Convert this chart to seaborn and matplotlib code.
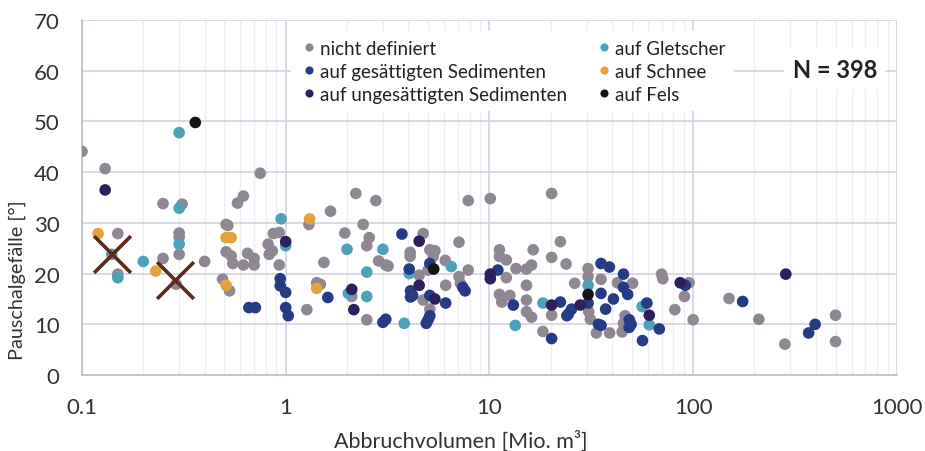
import matplotlib
matplotlib.use("Agg")
import matplotlib.pyplot as plt
from matplotlib.ticker import FixedLocator, NullFormatter, FuncFormatter
import seaborn as sns
import pandas as pd

# Abbruchvolumen [Mio. m3] / Pauschalgefaelle [deg] per Untergrund
nd_vol = [0.10, 0.13, 0.75, 0.25, 0.31, 0.62, 0.58, 0.51, 0.52, 0.87, 0.93, 0.15, 0.30, 0.30,
          0.82, 0.30, 0.51, 0.54, 0.55, 0.62, 0.65, 0.70, 0.70, 0.83, 0.86, 0.93, 0.25, 0.40,
          0.15, 0.29, 0.49, 0.53, 2.21, 2.77, 1.66, 1.30, 1.95, 2.40, 2.57, 2.50, 2.86, 3.10,
          1.54, 1.42, 1.48, 2.11, 1.27, 2.50, 7.87, 10.1, 4.73, 7.09, 4.08, 4.08, 5.1, 5.4,
          5.3, 6.07, 3.18, 7.87, 5.0, 4.52, 7.09, 7.2, 6.1, 4.73, 5.1, 20.2, 22.3, 16.4, 11.2,
          11.2, 12.1, 20.2, 16.1, 15.2, 13.5, 23.8, 30.5, 12.1, 15.2, 26.2, 30.5, 11.2, 11.5,
          12.6, 15.2, 15.2, 16.1, 20.2, 30.7, 31.3, 18.3, 33.5, 70.0, 71.0, 35.3, 42.5, 50.4,
          95.5, 90.6, 81.3, 100.0, 46.3, 45.5, 44.8, 38.9, 150.0, 210.0, 282.0, 500.0, 500.0]
nd_ang = [44.1, 40.7, 39.8, 33.8, 33.7, 35.3, 33.9, 29.7, 29.5, 27.9, 28.1, 27.9, 28.0, 27.2,
          25.8, 23.8, 24.3, 23.5, 22.0, 21.7, 24.0, 23.0, 21.7, 23.8, 24.5, 21.7, 23.0, 22.4,
          19.9, 17.9, 18.9, 16.6, 35.8, 34.4, 32.3, 29.7, 28.0, 29.7, 27.1, 25.5, 22.5, 21.7,
          22.2, 18.2, 17.9, 15.5, 12.9, 10.9, 34.4, 34.8, 27.9, 26.2, 24.2, 23.4, 24.7, 24.5,
          23.4, 22.6, 21.5, 20.7, 20.7, 19.7, 19.4, 18.1, 17.7, 14.8, 13.0, 35.8, 26.3, 24.7, 24.7,
          23.4, 22.7, 23.2, 21.7, 20.9, 21.0, 21.9, 21.0, 19.2, 17.7, 18.1, 19.4, 15.9, 14.4,
          15.7, 14.8, 12.5, 11.4, 11.8, 12.5, 11.0, 8.6, 8.3, 19.9, 19.0, 18.9, 18.2, 18.1,
          18.2, 15.5, 12.9, 10.9, 11.7, 10.2, 8.5, 8.3, 15.1, 11.0, 6.1, 11.8, 6.6]

gl_vol = [0.30, 0.30, 0.95, 1.0, 0.30, 0.14, 0.20, 0.15, 2.0, 3.0, 2.5, 2.03, 2.5, 6.5,
          4.04, 3.82, 18.3, 13.4, 30.5, 56.2, 60.9]
gl_ang = [47.8, 32.9, 30.8, 25.5, 25.8, 23.8, 22.4, 19.2, 24.8, 24.8, 20.3, 16.1, 15.5, 21.4,
          20.0, 10.2, 14.2, 9.8, 17.7, 13.5, 9.9]

sn_vol = [0.12, 0.51, 0.54, 0.23, 0.51, 1.31, 1.42]
sn_ang = [27.9, 27.1, 27.1, 20.5, 17.7, 30.8, 17.1]

gs_vol = [0.94, 0.94, 1.0, 0.66, 0.71, 1.0, 1.03, 1.61, 3.0, 3.1, 3.72, 4.04, 5.1, 11.0,
          7.4, 7.6, 4.1, 4.2, 4.1, 5.1, 6.1, 5.1, 5.0, 4.9, 13.1, 22.3, 30.5, 25.3, 24.4, 24.0,
          20.2, 34.3, 35.3, 38.8, 45.5, 45.5, 47.7, 91.5, 35.3, 40.6, 37.2, 59.3, 48.6, 49.6,
          48.5, 68.2, 35.3, 56.4, 175.0, 397.0, 369.0]
gs_ang = [19.0, 17.6, 16.3, 13.3, 13.3, 13.3, 11.7, 15.3, 10.4, 11.0, 27.8, 20.9, 22.0, 20.7,
          17.3, 16.6, 16.6, 15.7, 15.4, 15.7, 14.2, 11.7, 10.9, 10.2, 13.8, 14.4, 14.2, 13.0, 12.0, 11.7,
          7.2, 10.0, 22.0, 21.3, 19.9, 17.3, 15.9, 17.7, 16.1, 15.0, 13.0, 14.2, 10.9, 10.0,
          9.4, 9.1, 9.8, 6.8, 14.5, 10.0, 8.3]

us_vol = [0.13, 1.0, 2.11, 2.16, 4.52, 10.1, 10.1, 4.52, 5.4, 20.2, 27.9, 60.9, 285.0, 86.4]
us_ang = [36.5, 26.3, 16.9, 12.9, 26.4, 19.9, 19.0, 17.7, 15.0, 13.8, 13.8, 11.8, 19.9, 18.2]

fe_vol = [0.36, 5.33, 30.5]
fe_ang = [49.8, 20.9, 15.9]

# markierte Ereignisse (Kreuze)
x_vol = [0.14, 0.286]
x_ang = [23.8, 18.7]

groups = ["nicht definiert", "auf gesättigten Sedimenten", "auf ungesättigten Sedimenten",
          "auf Gletscher", "auf Schnee", "auf Fels"]
colors = ["#8f8893", "#263a86", "#2d1f5c", "#4ea2b8", "#e4a23c", "#141414"]

frames = []
for name, v, a in [("nicht definiert", nd_vol, nd_ang),
                   ("auf Gletscher", gl_vol, gl_ang),
                   ("auf Schnee", sn_vol, sn_ang),
                   ("auf gesättigten Sedimenten", gs_vol, gs_ang),
                   ("auf ungesättigten Sedimenten", us_vol, us_ang),
                   ("auf Fels", fe_vol, fe_ang)]:
    frames.append(pd.DataFrame({"vol": v, "ang": a, "typ": name}))
df = pd.concat(frames, ignore_index=True)

sns.set_style("white")
plt.rcParams["font.family"] = ["Lato", "DejaVu Sans"]

fig = plt.figure(figsize=(9.25, 4.52), dpi=100)
ax = fig.add_axes([0.0886, 0.168, 0.881, 0.7855])

sns.scatterplot(data=df, x="vol", y="ang", hue="typ", hue_order=groups,
                palette=dict(zip(groups, colors)), s=70, linewidth=0, ax=ax, zorder=3)
ax.scatter(x_vol, x_ang, marker="x", s=700, color="#5f2a1c", linewidths=2.6, zorder=4)

ax.set_xscale("log")
ax.set_xlim(0.1, 1000)
ax.set_ylim(0, 70)
ax.set_yticks(range(0, 71, 10))
ax.xaxis.set_major_locator(FixedLocator([0.1, 1, 10, 100, 1000]))
ax.xaxis.set_major_formatter(FuncFormatter(lambda v, p: f"{v:g}"))
ax.xaxis.set_minor_locator(FixedLocator([m * 10.0 ** e for e in range(-1, 3) for m in range(2, 10)]))
ax.xaxis.set_minor_formatter(NullFormatter())

ax.grid(True, which="major", color="#cfd0e0", linewidth=1.1, zorder=0)
ax.grid(True, which="minor", axis="x", color="#ededf3", linewidth=0.9, zorder=0)
ax.set_axisbelow(True)
for side in ["top", "right"]:
    ax.spines[side].set_visible(False)
for side in ["left", "bottom"]:
    ax.spines[side].set_color("#b8b8c8")
    ax.spines[side].set_linewidth(1.1)
ax.tick_params(axis="both", labelsize=16, colors="#333333", length=0, pad=16)

ax.set_xlabel("Abbruchvolumen [Mio. m³]", fontsize=15.5, color="#333333")
ax.set_ylabel("Pauschalgefälle [°]", fontsize=14.3, color="#333333")
ax.xaxis.set_label_coords(0.465, -0.152)
ax.yaxis.set_label_coords(-0.069, 0.27)

handles, labels = ax.get_legend_handles_labels()
leg = ax.legend(handles[:6], labels[:6], ncol=2, loc="upper left",
                bbox_to_anchor=(0.245, 0.995), fontsize=13.5, frameon=True,
                markerscale=0.7, handletextpad=0.1, columnspacing=1.45,
                labelspacing=0.33, borderpad=0.45, handlelength=1.0)
leg.get_frame().set_facecolor("white")
leg.get_frame().set_edgecolor("none")
leg.get_frame().set_alpha(1)
leg.set_zorder(5)
for t in leg.get_texts():
    t.set_color("#222222")

ax.text(0.924, 0.862, "N = 398", transform=ax.transAxes, fontsize=17, fontweight="bold",
        color="#222222", ha="center", va="center", zorder=6,
        bbox=dict(facecolor="white", edgecolor="none", pad=6))

fig.savefig("out.png", dpi=100)
